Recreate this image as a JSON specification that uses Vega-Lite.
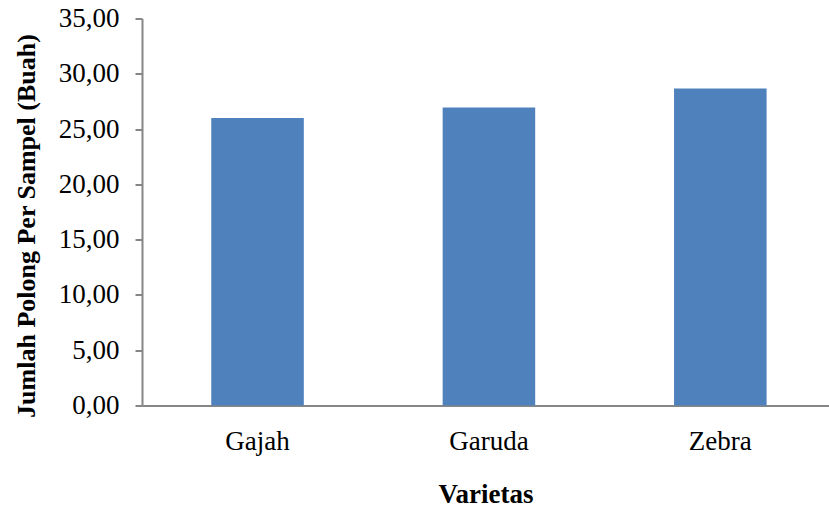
{
  "$schema": "https://vega.github.io/schema/vega-lite/v6.json",
  "width": 687,
  "height": 387,
  "autosize": "none",
  "padding": {"left": 142, "top": 18.5, "right": 0, "bottom": 104.5},
  "background": "white",
  "data": {
    "values": [
      {"varietas": "Gajah", "polong": 26.0},
      {"varietas": "Garuda", "polong": 26.95},
      {"varietas": "Zebra", "polong": 28.67}
    ]
  },
  "mark": {"type": "bar", "color": "#4F81BD"},
  "encoding": {
    "x": {
      "field": "varietas",
      "type": "nominal",
      "sort": null,
      "title": "Varietas",
      "scale": {"paddingInner": 0.6, "paddingOuter": 0.2845, "align": 0.526},
      "axis": {
        "labelAngle": 0,
        "ticks": false,
        "labelPadding": 23,
        "titlePadding": 27,
        "titleFontSize": 27
      }
    },
    "y": {
      "field": "polong",
      "type": "quantitative",
      "title": "Jumlah Polong Per Sampel (Buah)",
      "scale": {"domain": [0, 35], "nice": false},
      "axis": {
        "values": [0, 5, 10, 15, 20, 25, 30, 35],
        "format": ".2f",
        "grid": false,
        "tickSize": 7,
        "labelPadding": 16,
        "titlePadding": 19,
        "titleFontSize": 26,
        "titleY": 207
      }
    }
  },
  "config": {
    "locale": {
      "number": {"decimal": ",", "thousands": ".", "grouping": [3], "currency": ["Rp", ""]}
    },
    "view": {"stroke": null},
    "axis": {
      "domainColor": "#868686",
      "domainWidth": 2,
      "tickColor": "#868686",
      "tickWidth": 2,
      "labelFont": "Liberation Serif",
      "labelFontSize": 27,
      "labelColor": "#000000",
      "titleFont": "Liberation Serif",
      "titleFontWeight": "bold",
      "titleColor": "#000000"
    }
  }
}
